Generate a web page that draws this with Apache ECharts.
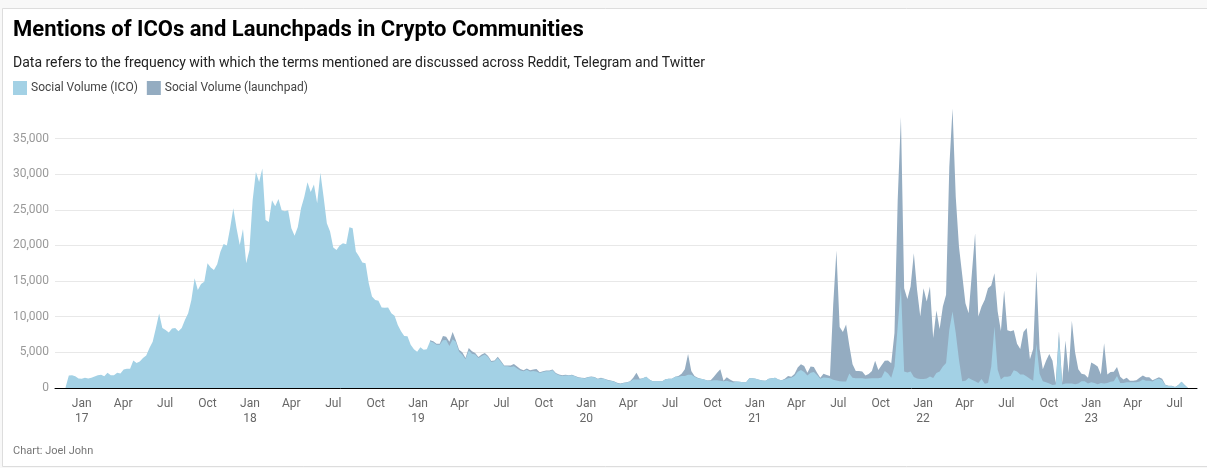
<!DOCTYPE html>
<html lang="en">
  <head>
    <meta charset="UTF-8" />
    <title>Mentions of ICOs and Launchpads in Crypto Communities</title>
    <style>
      html, body { margin: 0; padding: 0; background: #f8f8f8; }
      #main { width: 1207px; height: 468px; }
    </style>
  </head>
  <body>
    <div id="main"></div>

    <script src="https://cdn.jsdelivr.net/npm/echarts@6/dist/echarts.min.js"></script>
    <script>
      // weekly readings, first week is 2016-11-27
      let firstWeek = Date.UTC(2016, 10, 27)
      let weekMs = 7 * 24 * 3600 * 1000

      let icoValues = [
        100, 1750, 1800, 1650, 1350, 1300, 1450, 1350, 1450, 1600,
        1800, 1850, 1650, 2150, 1800, 1800, 2150, 2050, 2600, 2700,
        2700, 3850, 3500, 3700, 4200, 4550, 5600, 6500, 8400, 10450,
        8400, 8150, 7800, 8350, 8400, 7950, 8400, 9550, 10500, 12350,
        15400, 13750, 14600, 14900, 17500, 16900, 16550, 17350, 19100, 20200,
        20000, 22400, 25200, 22400, 20050, 22300, 17500, 19350, 26350, 30300,
        28900, 30800, 23550, 23300, 26350, 25500, 26500, 24950, 24800, 24950,
        22400, 21350, 22600, 25200, 26800, 28850, 27500, 28550, 25900, 30200,
        26800, 23100, 21950, 19700, 19350, 20000, 20300, 20150, 22550, 22400,
        19150, 18450, 17600, 17500, 14700, 12850, 12350, 12250, 11300, 11250,
        11300, 10500, 10150, 8850, 7950, 7300, 7250, 6050, 5450, 5100,
        5700, 5350, 5450, 6550, 6400, 6050, 6050, 6700, 6750, 5900,
        6850, 6500, 5100, 4650, 4050, 5250, 4800, 4700, 4200, 4500,
        4700, 4350, 3650, 3750, 4200, 3650, 3050, 3050, 2950, 3050,
        2750, 2450, 2350, 2550, 2300, 2400, 2300, 2100, 2250, 2350,
        2350, 2500, 2000, 1800, 1700, 1750, 1750, 1800, 1650, 1450,
        1400, 1350, 1500, 1550, 1500, 1250, 1350, 1300, 1100, 1000,
        900, 670, 570, 700, 760, 900, 1190, 1190, 1190, 1380,
        1570, 1190, 950, 950, 950, 950, 1240, 1290, 1290, 1570,
        1570, 1670, 1670, 1860, 1860, 1570, 1380, 1290, 1190, 1050,
        1000, 1100, 1100, 1000, 950, 1000, 860, 760, 900, 860,
        810, 810, 1380, 1380, 1290, 1140, 1050, 1000, 1290, 1380,
        1430, 1190, 1100, 1190, 1380, 1430, 1670, 2280, 2520, 2240,
        1760, 2140, 2240, 1810, 1290, 1480, 1430, 1380, 1140, 1050,
        950, 900, 900, 2050, 1430, 1380, 1380, 1380, 1290, 1330,
        1380, 1380, 1380, 1480, 2380, 2050, 1430, 3030, 8630, 14200,
        2330, 2190, 2330, 1540, 1350, 1260, 1260, 1350, 1630, 1400,
        2100, 2330, 3030, 3500, 8170, 10730, 7700, 3970, 930, 1030,
        1400, 1170, 930, 700, 1260, 600, 700, 3030, 8630, 2570,
        1200, 1570, 1570, 1670, 2500, 2300, 1900, 1900, 1600, 1300,
        1000, 6190, 2000, 950, 800, 620, 420, 480, 7300, 500,
        620, 620, 620, 520, 620, 950, 950, 620, 800, 710,
        520, 710, 620, 710, 860, 950, 1670, 710, 710, 800,
        800, 800, 800, 900, 1190, 1000, 1000, 900, 1190, 1290,
        1100, 400, 280, 280, 140, 400, 860, 400, 0
      ]

      // launchpad stays hidden behind ICO before this week
      let launchpadStart = 113
      let launchpadValues = [
        6700, 6550, 6200, 6200, 7300, 7200, 6500, 7850, 6700, 5350,
        5000, 4200, 5600, 5150, 4900, 4350, 4700, 4900, 4500, 3800,
        3850, 4400, 3800, 3150, 3150, 3150, 3350, 3000, 2650, 2500,
        2750, 2500, 2600, 2650, 2200, 2350, 2450, 2450, 2600, 2100,
        1900, 1800, 1850, 1800, 1850, 1700, 1500, 1450, 1400, 1550,
        1600, 1550, 1300, 1430, 1300, 1150, 1050, 950, 720, 620,
        750, 800, 950, 1430, 2150, 1290, 1380, 1570, 1190, 950,
        950, 950, 950, 1240, 1290, 1290, 1570, 1670, 2000, 2620,
        4760, 2380, 1670, 1430, 1290, 1190, 1050, 1100, 1570, 2140,
        2620, 1000, 1520, 1190, 950, 900, 860, 810, 810, 1380,
        1380, 1290, 1140, 1050, 1000, 1290, 1380, 1430, 1190, 1100,
        1290, 1670, 1570, 1950, 2860, 3330, 3100, 2140, 3000, 2950,
        2140, 1430, 2000, 1810, 1670, 11660, 19280, 8570, 7850, 8900,
        5950, 3330, 2380, 2380, 2330, 1760, 1950, 2380, 3810, 2520,
        3190, 3810, 3860, 3470, 7700, 26370, 38000, 14000, 12500, 14230,
        18900, 13770, 10030, 14000, 12130, 14230, 7000, 10870, 8260, 11430,
        13070, 31000, 39200, 26800, 19830, 15870, 11900, 10500, 16100, 21700,
        10030, 11430, 12370, 14000, 14370, 16100, 10730, 8000, 13660, 8090,
        7950, 8090, 6190, 5470, 7850, 8430, 4050, 5470, 16400, 5470,
        2620, 3810, 4760, 3810, 710, 7950, 710, 6660, 2140, 9420,
        5000, 2620, 2000, 1900, 1430, 3570, 3330, 3000, 1900, 6280,
        1900, 2240, 2280, 2950, 1570, 1190, 1430, 1000, 1000, 1100,
        1430, 1760, 1520, 1520, 1100, 1290, 1520, 1290, 450, 300,
        300, 150, 420, 880, 420, 0
      ]

      let xTickDates = [
        '2017-01-01', '2017-04-01', '2017-07-01', '2017-10-01',
        '2018-01-01', '2018-04-01', '2018-07-01', '2018-10-01',
        '2019-01-01', '2019-04-01', '2019-07-01', '2019-10-01',
        '2020-01-01', '2020-04-01', '2020-07-01', '2020-10-01',
        '2021-01-01', '2021-04-01', '2021-07-01', '2021-10-01',
        '2022-01-01', '2022-04-01', '2022-07-01', '2022-10-01',
        '2023-01-01', '2023-04-01', '2023-07-01'
      ]
      let xTickLabels = [
        'Jan\n17', 'Apr', 'Jul', 'Oct',
        'Jan\n18', 'Apr', 'Jul', 'Oct',
        'Jan\n19', 'Apr', 'Jul', 'Oct',
        'Jan\n20', 'Apr', 'Jul', 'Oct',
        'Jan\n21', 'Apr', 'Jul', 'Oct',
        'Jan\n22', 'Apr', 'Jul', 'Oct',
        'Jan\n23', 'Apr', 'Jul'
      ]
      let xTickTimes = xTickDates.map(d => Date.parse(d + 'T00:00:00Z'))

      let icoName = 'Social Volume (ICO)'
      let launchpadName = 'Social Volume (launchpad)'
      let icoColor = 'rgb(163, 209, 229)'
      let launchpadColor = 'rgb(148, 172, 193)'

      let myChart = echarts.init(document.querySelector('#main'))
      let option = {
        animation: false,
        textStyle: { fontFamily: 'Roboto' },
        title: [
          {
            text: 'Mentions of ICOs and Launchpads in Crypto Communities',
            left: 13,
            top: 19,
            padding: 0,
            textStyle: { fontFamily: 'Roboto', fontSize: 22, fontWeight: 700, color: '#000' }
          },
          {
            text: 'Data refers to the frequency with which the terms mentioned are discussed across Reddit, Telegram and Twitter',
            left: 13,
            top: 56,
            padding: 0,
            textStyle: { fontFamily: 'Roboto', fontSize: 14, fontWeight: 400, color: '#222' }
          }
        ],
        legend: {
          left: 13,
          top: 81,
          padding: 0,
          itemWidth: 14,
          itemHeight: 14,
          itemGap: 9,
          icon: 'rect',
          textStyle: { fontFamily: 'Roboto', fontSize: 12, color: '#444', padding: [4, 0, 0, -1] },
          data: [
            { name: icoName, itemStyle: { color: icoColor, borderWidth: 0 } },
            { name: launchpadName, itemStyle: { color: launchpadColor, borderWidth: 0 } }
          ]
        },
        graphic: [
          {
            type: 'rect',
            silent: true,
            z: -10,
            shape: { x: 2.5, y: 8.5, width: 1210, height: 458 },
            style: { fill: '#fff', stroke: '#ddd', lineWidth: 1 }
          },
          {
            type: 'text',
            left: 13,
            top: 446,
            style: { text: 'Chart: Joel John', fontFamily: 'Roboto', fontSize: 11, fill: '#777' }
          }
        ],
        grid: { left: 55, right: 10, top: 138.5, bottom: 80 },
        xAxis: {
          type: 'value',
          min: Date.UTC(2016, 10, 4),
          max: firstWeek + 350.8 * weekMs,
          z: 5,
          axisLine: { lineStyle: { color: '#000', width: 1 } },
          axisTick: { show: false },
          splitLine: { show: false },
          axisLabel: {
            customValues: xTickTimes,
            formatter: function (value) {
              return xTickLabels[xTickTimes.indexOf(value)]
            },
            color: '#666',
            fontFamily: 'Roboto',
            fontSize: 12,
            lineHeight: 15,
            margin: 8
          }
        },
        yAxis: {
          type: 'value',
          min: 0,
          max: 35000,
          interval: 5000,
          z: 3, // gridlines show faintly through the areas
          axisLine: { show: false },
          axisTick: { show: false },
          splitLine: { lineStyle: { color: 'rgba(0, 0, 0, 0.09)', width: 1 } },
          axisLabel: {
            color: '#999',
            fontFamily: 'Roboto',
            fontSize: 12,
            margin: 6,
            formatter: function (value) {
              return value.toLocaleString('en-US')
            }
          }
        },
        series: [
          {
            name: launchpadName,
            type: 'line',
            clip: false,
            showSymbol: false,
            lineStyle: { width: 0 },
            itemStyle: { color: launchpadColor },
            areaStyle: { color: launchpadColor, opacity: 1 },
            data: launchpadValues.map((v, i) => [firstWeek + (launchpadStart + i) * weekMs, v])
          },
          {
            name: icoName,
            type: 'line',
            clip: false,
            showSymbol: false,
            lineStyle: { width: 0 },
            itemStyle: { color: icoColor },
            areaStyle: { color: icoColor, opacity: 1 },
            data: icoValues.map((v, i) => [firstWeek + i * weekMs, v])
          }
        ]
      }
      myChart.setOption(option)
    </script>
  </body>
</html>
